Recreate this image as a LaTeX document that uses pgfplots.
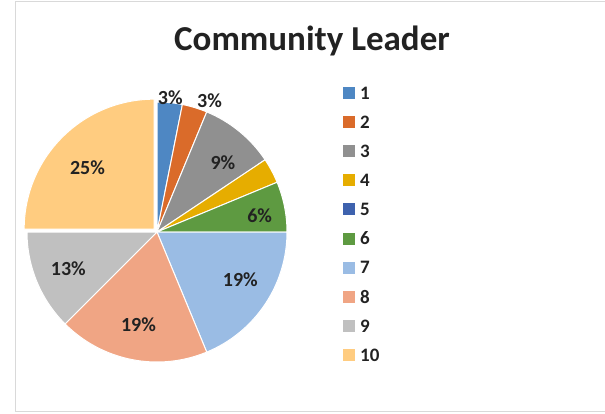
\documentclass[border=0pt]{standalone}
\usepackage{fontspec}
\setmainfont{Carlito}
\usepackage{pgfplots}
\usepackage{pgfplotstable}
\pgfplotsset{compat=1.18}
\usetikzlibrary{calc}

\definecolor{c1}{HTML}{4E87C3}
\definecolor{c2}{HTML}{DA6B2A}
\definecolor{c3}{HTML}{909090}
\definecolor{c4}{HTML}{E6AD00}
\definecolor{c5}{HTML}{3E62AE}
\definecolor{c6}{HTML}{5E9A41}
\definecolor{c7}{HTML}{9ABCE4}
\definecolor{c8}{HTML}{F0A584}
\definecolor{c9}{HTML}{C0C0C0}
\definecolor{c10}{HTML}{FFCC80}
\definecolor{frame}{HTML}{D9D9D9}
\definecolor{txt}{HTML}{222222}

% counts per category; lr = label radius in px (0 = no label),
% la = label angle shift, ex = explode
\pgfplotstableread{
n  count col lr  la ex
1  1     c1  135 0  0
2  1     c2  141 -5 0
3  3     c3  96  -4 0
4  1     c4  0   0  0
5  0     c5  0   0  0
6  2     c6  104 -2 0
7  6     c7  96  4  0
8  6     c8  95  0  0
9  4     c9  96  0  0
10 8     c10 95  2  4
}\piedata

\def\total{0}
\pgfplotsforeachungrouped \i in {0,...,9}{%
  \pgfplotstablegetelem{\i}{count}\of\piedata
  \pgfmathsetmacro\total{\total+\pgfplotsretval}%
}
\def\cum{0}
\pgfplotsforeachungrouped \i in {0,...,9}{%
  \pgfplotstablegetelem{\i}{count}\of\piedata \let\v\pgfplotsretval
  \pgfplotstablegetelem{\i}{col}\of\piedata \expandafter\xdef\csname col\i\endcsname{\pgfplotsretval}%
  \pgfplotstablegetelem{\i}{lr}\of\piedata \expandafter\xdef\csname lr\i\endcsname{\pgfplotsretval}%
  \pgfplotstablegetelem{\i}{la}\of\piedata \let\la\pgfplotsretval
  \pgfplotstablegetelem{\i}{ex}\of\piedata \expandafter\xdef\csname ex\i\endcsname{\pgfplotsretval}%
  \pgfplotstablegetelem{\i}{n}\of\piedata \expandafter\xdef\csname nm\i\endcsname{\pgfplotsretval}%
  \pgfmathsetmacro\sa{90-360*\cum/\total}%
  \pgfmathsetmacro\cum{\cum+\v}%
  \pgfmathsetmacro\ea{90-360*\cum/\total}%
  \pgfmathsetmacro\ma{(\sa+\ea)/2}%
  \pgfmathsetmacro\lang{\ma+\la}%
  \pgfmathtruncatemacro\pc{round(100*\v/\total)}%
  \pgfmathtruncatemacro\cn{\v}%
  \expandafter\xdef\csname sa\i\endcsname{\sa}%
  \expandafter\xdef\csname ea\i\endcsname{\ea}%
  \expandafter\xdef\csname ma\i\endcsname{\ma}%
  \expandafter\xdef\csname lang\i\endcsname{\lang}%
  \expandafter\xdef\csname pc\i\endcsname{\pc}%
  \expandafter\xdef\csname cn\i\endcsname{\cn}%
}

\begin{document}
\begin{tikzpicture}
\begin{axis}[
  hide axis, scale only axis,
  width=605bp, height=414bp,
  xmin=0, xmax=605, ymin=0, ymax=414,
  y dir=reverse, clip=false,
]
% chart frame
\draw[frame, line width=1.5bp] (axis cs:605,1.5) -- (axis cs:15.5,1.5) -- (axis cs:15.5,411.5) -- (axis cs:605,411.5);
% title
\node[txt, font=\fontsize{35bp}{38bp}\selectfont\bfseries] at (axis cs:312,41) {Community Leader};
% slices
\pgfplotsinvokeforeach{0,...,9}{%
  \ifnum\csname cn#1\endcsname>0
    \fill[\csname col#1\endcsname, draw=white, line width=1bp]
      ($(axis cs:157,232)+(\csname ma#1\endcsname:\csname ex#1\endcsname bp)$)
      -- ++(\csname sa#1\endcsname:130bp)
      arc[start angle=\csname sa#1\endcsname, end angle=\csname ea#1\endcsname, radius=130bp]
      -- cycle;
  \fi
}
% data labels
\pgfplotsinvokeforeach{0,...,9}{%
  \ifnum\csname lr#1\endcsname>0
    \node[txt, font=\fontsize{20bp}{22bp}\selectfont\bfseries]
      at ($(axis cs:157,232)+(\csname lang#1\endcsname:\csname lr#1\endcsname bp)$) {\csname pc#1\endcsname\%};
  \fi
}
% legend
\pgfplotsinvokeforeach{0,...,9}{%
  \fill[\csname col#1\endcsname] (axis cs:343,{87+29.1*#1}) rectangle (axis cs:355,{99+29.1*#1});
  \node[txt, anchor=west, inner sep=0pt, font=\fontsize{19bp}{21bp}\selectfont\bfseries]
    at (axis cs:360,{93+29.1*#1}) {\csname nm#1\endcsname};
}
\end{axis}
\pgfresetboundingbox
\path[use as bounding box] (current axis.south west) rectangle (current axis.north east);
\end{tikzpicture}
\end{document}
